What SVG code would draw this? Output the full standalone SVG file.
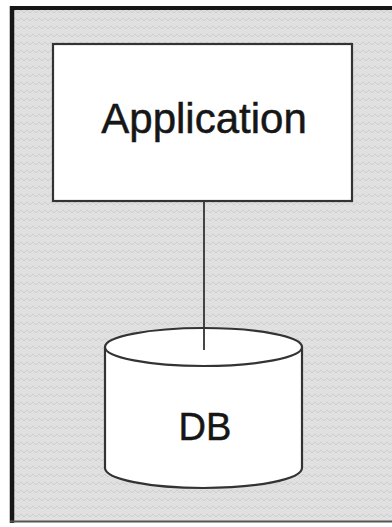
<svg xmlns="http://www.w3.org/2000/svg" width="392" height="527" viewBox="0 0 392 527">
  <style>
    .shape { fill: #ffffff; stroke: #333333; stroke-width: 2.2; }
    .label { font-family: "Liberation Sans", Arial, sans-serif; fill: #161616; stroke: #161616; stroke-width: 0.5; text-anchor: middle; }
    .wire { stroke: #333333; stroke-width: 1.8; fill: none; }
  </style>
  <defs>
    <pattern id="grain" width="12" height="8" patternUnits="userSpaceOnUse">
      <rect width="12" height="8" fill="#e0e0e0"/>
      <path d="M0 5 L3 2 L6 5 L9 2 L12 5" fill="none" stroke="#c9c9c9" stroke-width="0.8"/>
    </pattern>
  </defs>

  <rect width="392" height="527" fill="#ffffff"/>

  <!-- frame -->
  <g id="frame">
    <rect x="10" y="6" width="386" height="516" fill="url(#grain)"/>
    <line x1="12" y1="6" x2="12" y2="523" stroke="#161616" stroke-width="4.5"/>
    <line x1="10" y1="8" x2="392" y2="8" stroke="#161616" stroke-width="4"/>
    <line x1="10" y1="521.5" x2="392" y2="521.5" stroke="#555555" stroke-width="2"/>
  </g>

  <!-- connectors -->
  <g id="connectors">
    <line class="wire" x1="204" y1="201" x2="204" y2="350"/>
  </g>

  <!-- application node -->
  <g id="application">
    <rect class="shape" x="53" y="44" width="299" height="157"/>
    <text class="label" x="204" y="133" font-size="42">Application</text>
  </g>

  <!-- database node -->
  <g id="db">
    <path class="shape" d="M105 347 L105 468 A98.5 20 0 0 0 302 468 L302 347"/>
    <ellipse class="shape" cx="203.5" cy="347" rx="98.5" ry="19"/>
    <line class="wire" x1="204" y1="328" x2="204" y2="350"/>
    <text class="label" x="205" y="440" font-size="38">DB</text>
  </g>
</svg>
